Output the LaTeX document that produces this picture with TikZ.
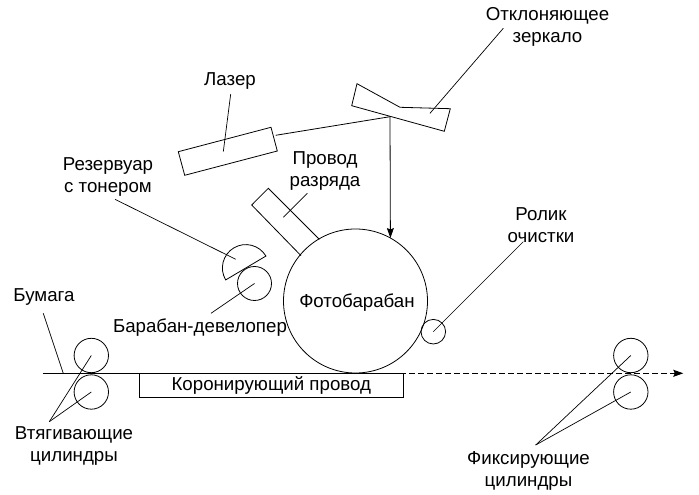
\documentclass[tikz,border=0pt]{standalone}
\usepackage{fontspec}
\setmainfont{Liberation Sans}
\usetikzlibrary{arrows.meta,calc,positioning}
\tikzset{
    part/.style={draw=black, line width=0.8pt},
    roller/.style={draw=black, line width=0.8pt, circle, inner sep=0pt, outer sep=0pt, minimum size=#1},
    leader/.style={draw=black, line width=0.7pt},
    lbl/.style={align=center, inner sep=0pt, font=\fontsize{18.7}{22}\selectfont}
}

\begin{document}
\begin{tikzpicture}[>={Stealth[length=10pt,width=7pt,inset=1.5pt]}, x=1pt, y=1pt]
    \useasboundingbox (0,0) rectangle (699,495);

    % Labels
    \node[lbl] (lbl_mirror) at (547.5,468) {Отклоняющее\\зеркало};
    \node[lbl] (lbl_laser) at (230,414) {Лазер};
    \node[lbl] (lbl_wire) at (325,324) {Провод\\разряда};
    \node[lbl] (lbl_tank) at (108,318) {Резервуар\\с тонером};
    \node[lbl] (lbl_clean) at (541,270) {Ролик\\очистки};
    \node[lbl] (lbl_paper) at (44,198) {Бумага};
    \node[lbl] (lbl_dev) at (200,167) {Барабан-девелопер};
    \node[lbl] (lbl_inlet) at (74,49) {Втягивающие\\цилиндры};
    \node[lbl] (lbl_fuser) at (528.5,24) {Фиксирующие\\цилиндры};
    \node[lbl] (lbl_drum) at (357,192) {Фотобарабан};

    % Drum and rollers
    \node[roller=144pt] (drum) at (355.5,194) {};
    \node[roller=34pt] (dev) at (254.5,211.5) {};
    \node[roller=24.6pt] (clean) at (433.3,163.3) {};
    \node[roller=34.4pt] (inlet_top) at (91.3,139.5) {};
    \node[roller=34.4pt] (inlet_low) at (91.3,103) {};
    \node[roller=34.4pt] (fuser_top) at (630.8,139.5) {};
    \node[roller=34.4pt] (fuser_low) at (630.8,103) {};

    % Laser and mirror
    \draw[part] (178.3,343.3) -- (271,367.7) -- (277.3,344) -- (184.7,319.7) -- cycle;
    \draw[part] (357,411.3) -- (400,387.7) -- (450.3,386.3) -- (444.3,363.7) -- (351.7,389.3) -- cycle;

    % Beam
    \coordinate (laser_out) at (275.7,359.7);
    \coordinate (mirror_hit) at (390,378.3);
    \draw[part] (laser_out) -- (mirror_hit);
    \draw[part, ->] (mirror_hit) -- (drum.61.4);

    % Discharge wire housing
    \draw[part] (301,239.3) -- (251.7,290) -- (268.3,306.7) -- (319.3,255.7);

    % Toner tank
    \draw[part] (245.8,227) ++(30.7:23.4) arc (30.7:210.7:23.4) -- cycle;

    % Paper path
    \coordinate (paper_in) at (43,121.7);
    \coordinate (paper_mid) at (373,121.7);
    \coordinate (paper_out) at (683.3,121.7);
    \draw[part] (paper_in) -- (paper_mid);
    \draw[part, line width=0.9pt, dash pattern=on 6pt off 3pt, ->] (paper_mid) -- (paper_out);

    % Corona wire
    \node[part, lbl, minimum width=264pt, minimum height=24pt] (corona) at (271.3,109.7) {Коронирующий провод};

    % Leader ends
    \coordinate (mirror_from) at (503.3,466.7);
    \coordinate (mirror_to) at (430,381.7);
    \coordinate (laser_from) at (230.7,401);
    \coordinate (laser_to) at (223.3,343.3);
    \coordinate (wire_from) at (307.3,301.7);
    \coordinate (wire_to) at (283.3,277.7);
    \coordinate (tank_from) at (115,295.7);
    \coordinate (tank_to) at (235.7,235.7);
    \coordinate (clean_from) at (523.3,253.3);
    \coordinate (dev_from) at (211,181.7);
    \coordinate (paper_from) at (43.3,181.7);
    \coordinate (paper_to) at (63.3,121.7);
    \coordinate (inlet_from) at (49.3,73.3);
    \coordinate (fuser_from) at (535.7,50);

    % Leaders
    \draw[leader] (mirror_from) -- (mirror_to);
    \draw[leader] (laser_from) -- (laser_to);
    \draw[leader] (wire_from) -- (wire_to);
    \draw[leader] (tank_from) -- (tank_to);
    \draw[leader] (clean_from) -- (clean.center);
    \draw[leader] (dev_from) -- (dev.center);
    \draw[leader] (paper_from) -- (paper_to);
    \draw[leader] (inlet_from) -- (inlet_top.center);
    \draw[leader] (inlet_from) -- (inlet_low.center);
    \draw[leader] (fuser_from) -- (fuser_top.center);
    \draw[leader] (fuser_from) -- (fuser_low.center);

\end{tikzpicture}
\end{document}
